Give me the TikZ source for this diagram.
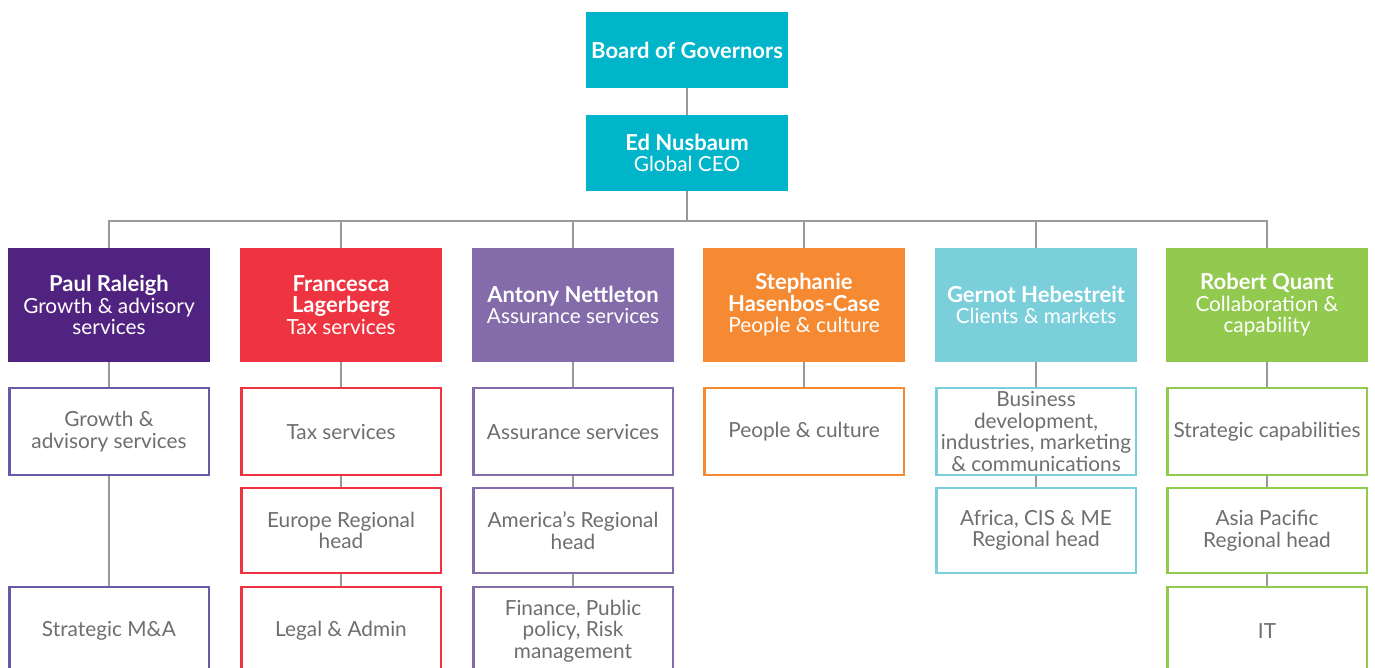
\documentclass[tikz,border=0pt]{standalone}
\usepackage{fontspec}
\setmainfont{Lato}
\definecolor{teal}{HTML}{00B5C9}
\definecolor{cpaul}{HTML}{512381}
\definecolor{cpaulo}{HTML}{6A58A8}
\definecolor{cfran}{HTML}{EE3440}
\definecolor{cant}{HTML}{836CA9}
\definecolor{cste}{HTML}{F58A33}
\definecolor{cger}{HTML}{7ACFDB}
\definecolor{crob}{HTML}{92C94F}
\definecolor{lgrey}{HTML}{999999}
\definecolor{tgrey}{HTML}{6D6E71}
\newcommand{\nm}[1]{{\fontsize{22}{21.5}\selectfont\bfseries #1}}
\begin{document}
\begin{tikzpicture}[x=1pt,y=-1pt,
  every node/.style={font=\fontsize{20.8}{21.5}\selectfont, align=center, inner sep=0pt},
  head/.style={minimum width=202pt, minimum height=114pt, text=white},
  top/.style={minimum width=202pt, minimum height=76pt, text=white, fill=teal},
  sub/.style={minimum width=199.5pt, draw=#1, line width=2.5pt, text=tgrey, fill=white},
  link/.style={draw=lgrey, line width=2.8pt}
]
\useasboundingbox (0,0) rectangle (1375,668);
\clip (0,0) rectangle (1375,668);
% top
\node[top] (board) at (687,50) {\nm{Board of Governors}};
\node[top] (ceo) at (687,153) {\nm{Ed Nusbaum}\\Global CEO};
\coordinate (bus) at (687,221);
% heads
\node[head, fill=cpaul] (h1) at (109,305) {\nm{Paul Raleigh}\\Growth \& advisory\\services};
\node[head, fill=cfran] (h2) at (341,305) {\nm{Francesca}\\\nm{Lagerberg}\\Tax services};
\node[head, fill=cant] (h3) at (573,305) {\nm{Antony Nettleton}\\Assurance services};
\node[head, fill=cste] (h4) at (804,305) {\nm{Stephanie}\\\nm{Hasenbos-Case}\\People \& culture};
\node[head, fill=cger] (h5) at (1036,305) {\nm{Gernot Hebestreit}\\Clients \& markets};
\node[head, fill=crob] (h6) at (1267,305) {\nm{Robert Quant}\\Collaboration \&\\capability};
% row 2
\node[sub=cpaulo, minimum height=87pt] (a1) at (109,431.5) {Growth \&\\advisory services};
\node[sub=cfran, minimum height=87pt] (b1) at (341,431.5) {Tax services};
\node[sub=cant, minimum height=87pt] (c1) at (573,431.5) {Assurance services};
\node[sub=cste, minimum height=87pt] (d1) at (804,431.5) {People \& culture};
\node[sub=cger, minimum height=87pt] (e1) at (1036,431.5) {Business\\development,\\industries, marketing\\\& communications};
\node[sub=crob, minimum height=87pt] (f1) at (1267,431.5) {Strategic capabilities};
% row 3
\node[sub=cfran, minimum height=85pt] (b2) at (341,530.5) {Europe Regional\\head};
\node[sub=cant, minimum height=85pt] (c2) at (573,530.5) {America’s Regional\\head};
\node[sub=cger, minimum height=85pt] (e2) at (1036,530.5) {Africa, CIS \& ME\\Regional head};
\node[sub=crob, minimum height=85pt] (f2) at (1267,530.5) {Asia Pacific\\Regional head};
% row 4
\node[sub=cpaulo, minimum height=88pt] (a3) at (109,631) {Strategic M\&A};
\node[sub=cfran, minimum height=88pt] (b3) at (341,631) {Legal \& Admin};
\node[sub=cant, minimum height=88pt] (c3) at (573,631) {Finance, Public\\policy, Risk\\management};
\node[sub=crob, minimum height=88pt] (f3) at (1267,631) {IT};
% connectors
\draw[link] (board) -- (ceo);
\draw[link] (ceo) -- (bus);
\foreach \h in {h1,h2,h3,h4,h5,h6} \draw[link] (\h.north) |- (bus);
\draw[link] (h1) -- (a1); \draw[link] (a1) -- (a3);
\draw[link] (h2) -- (b1); \draw[link] (b1) -- (b2); \draw[link] (b2) -- (b3);
\draw[link] (h3) -- (c1); \draw[link] (c1) -- (c2); \draw[link] (c2) -- (c3);
\draw[link] (h4) -- (d1);
\draw[link] (h5) -- (e1); \draw[link] (e1) -- (e2);
\draw[link] (h6) -- (f1); \draw[link] (f1) -- (f2); \draw[link] (f2) -- (f3);
\end{tikzpicture}
\end{document}
